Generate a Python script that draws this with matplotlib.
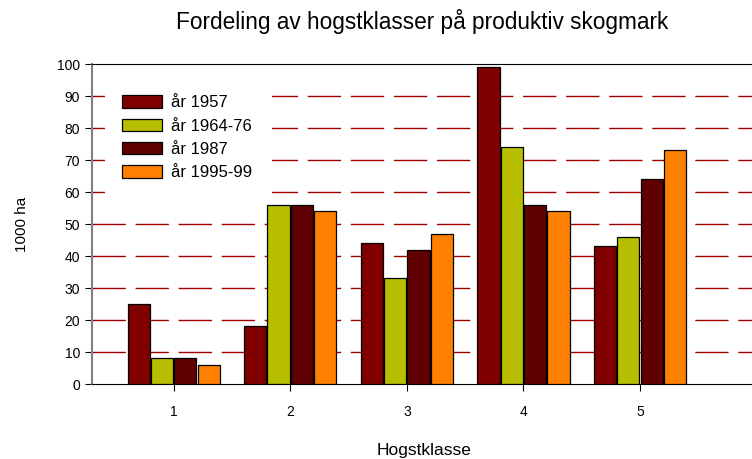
import matplotlib.pyplot as plt
import matplotlib.patches as mpatches
import numpy as np

plt.rcParams['font.family'] = ['Liberation Sans', 'DejaVu Sans']

# Data
klasser = ['1', '2', '3', '4', '5']
serier = ['år 1957', 'år 1964-76', 'år 1987', 'år 1995-99']
v1957 = [25, 18, 44, 99, 43]
v1964 = [8, 56, 33, 74, 46]
v1987 = [8, 56, 42, 56, 64]
v1995 = [6, 54, 47, 54, 73]
farger = ['#800000', '#b8be00', '#600000', '#ff8000']

fig = plt.figure(figsize=(7.52, 4.59), dpi=100)
ax = fig.add_axes([92 / 752, 1 - 384 / 459, 1 - 92 / 752, 320 / 459])

x = np.arange(1, len(klasser) + 1)
bredde = 0.19
offs = [-0.3, -0.1, 0.1, 0.3]
for verdier, navn, farge, o in zip([v1957, v1964, v1987, v1995], serier, farger, offs):
    ax.bar(x + o, verdier, bredde, color=farge, edgecolor='black', linewidth=0.9,
           label=navn, zorder=3)

ax.set_ylim(0, 100)
ax.set_xlim(0.3, 5.96)
ax.set_yticks(range(0, 101, 10))
ax.set_xticks(x)
ax.set_xticklabels(klasser)
ax.tick_params(axis='both', direction='out', length=5, labelsize=10, colors='black')
ax.tick_params(axis='x', pad=10)

# dashed red grid lines
for yv in range(10, 100, 10):
    ax.axhline(yv, color='#a00000', linestyle=(0, (24, 7)), linewidth=1.0, zorder=1)

ax.spines['right'].set_visible(False)
ax.spines['left'].set_color('#808080')
ax.spines['left'].set_linewidth(1.5)
ax.spines['top'].set_color('black')
ax.spines['bottom'].set_color('black')

ax.set_ylabel('1000 ha', fontsize=11, labelpad=20)
fig.text(424 / 752, 1 - 450 / 459, 'Hogstklasse', ha='center', va='center', fontsize=12.5)
fig.text(422 / 752, 1 - 22 / 459, 'Fordeling av hogstklasser på produktiv skogmark',
         ha='center', va='center', fontsize=16.3)

# white legend area (hides grid lines behind legend)
ax.add_patch(mpatches.Rectangle((0.0197, 0.559), 0.253, 0.379, transform=ax.transAxes,
                                facecolor='white', edgecolor='none', zorder=2))

leg = ax.legend(loc='upper left', bbox_to_anchor=(0.026, 0.944), frameon=False,
                fontsize=12, handlelength=2.35, handleheight=0.75, labelspacing=0.5,
                borderpad=0.8, handletextpad=0.55, borderaxespad=0)
leg.set_zorder(5)

fig.savefig('out.png', dpi=100)
